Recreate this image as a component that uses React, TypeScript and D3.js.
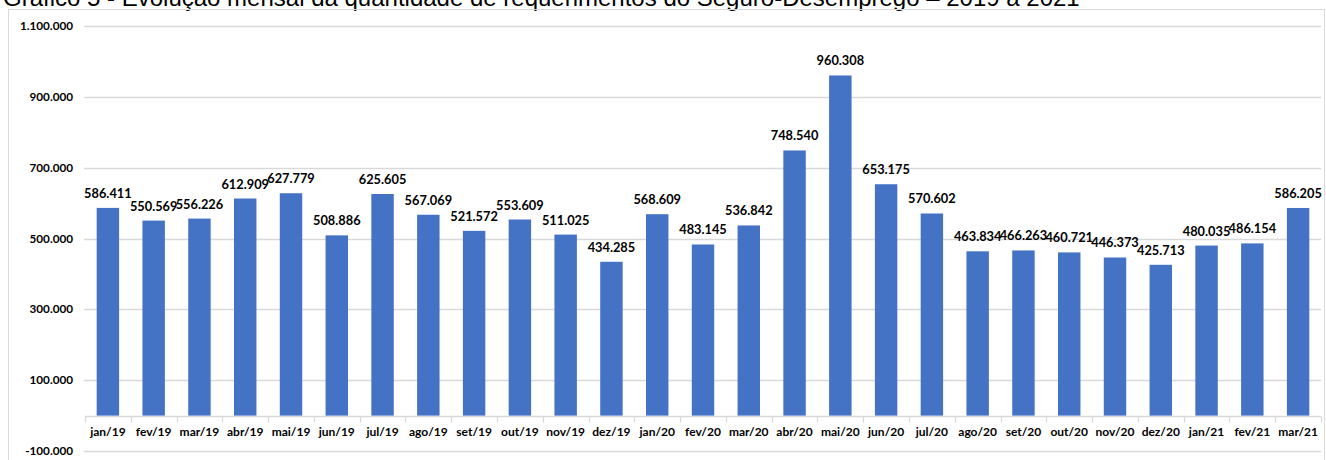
import React, { useRef, useEffect } from 'react';
import * as d3 from 'd3';

const months = [
  'jan/19', 'fev/19', 'mar/19', 'abr/19', 'mai/19', 'jun/19', 'jul/19', 'ago/19', 'set/19',
  'out/19', 'nov/19', 'dez/19', 'jan/20', 'fev/20', 'mar/20', 'abr/20', 'mai/20', 'jun/20',
  'jul/20', 'ago/20', 'set/20', 'out/20', 'nov/20', 'dez/20', 'jan/21', 'fev/21', 'mar/21',
];

const requerimentos = [
  586411, 550569, 556226, 612909, 627779, 508886, 625605, 567069, 521572,
  553609, 511025, 434285, 568609, 483145, 536842, 748540, 960308, 653175,
  570602, 463834, 466263, 460721, 446373, 425713, 480035, 486154, 586205,
];

const yTicks = [-100000, 100000, 300000, 500000, 700000, 900000, 1100000];

const title = 'Gráfico 5 - Evolução mensal da quantidade de requerimentos do Seguro-Desemprego – 2019 a 2021';

const BarChart = () => {
  const ref = useRef<SVGSVGElement>(null);

  useEffect(() => {
    const svg = d3.select(ref.current);
    svg.selectAll('*').remove();

    const font = 'Lato, Carlito, sans-serif';
    const grid = '#d9d9d9';

    const fmt = d3.formatLocale({
      decimal: ',', thousands: '.', grouping: [3], currency: ['R$', ''], minus: '-',
    }).format(',d');

    const data = months.map((m, i) => ({ month: m, value: requerimentos[i] }));

    const x = d3.scaleBand()
      .domain(months)
      .range([85, 1321])
      .padding(0);

    const y = d3.scaleLinear()
      .domain([-100000, 1100000])
      .range([451, 26]);

    // title, cut off by the top edge like in the source image
    svg.append('text')
      .attr('x', 3)
      .attr('y', 6)
      .attr('font-family', '"Liberation Sans", Arial, sans-serif')
      .attr('font-size', 24)
      .attr('fill', '#000')
      .text(title);

    // chart area border
    svg.append('rect')
      .attr('x', 8.5)
      .attr('y', 9.5)
      .attr('width', 1316)
      .attr('height', 460)
      .attr('fill', 'none')
      .attr('stroke', grid);

    // gridlines
    svg.append('g')
      .selectAll('line')
      .data(yTicks)
      .enter()
      .append('line')
      .attr('x1', 84)
      .attr('x2', 1321)
      .attr('y1', d => Math.round(y(d)) + 0.5)
      .attr('y2', d => Math.round(y(d)) + 0.5)
      .attr('stroke', grid)
      .attr('stroke-width', 1.3);

    svg.append('g')
      .selectAll('text')
      .data(yTicks)
      .enter()
      .append('text')
      .attr('x', 73)
      .attr('y', d => y(d) + 4)
      .attr('text-anchor', 'end')
      .attr('font-family', font)
      .attr('font-weight', 'bold')
      .attr('font-size', 11.7)
      .attr('fill', '#000')
      .text(d => fmt(d));

    // category axis at zero
    const y0 = Math.round(y(0)) + 0.5;
    svg.append('line')
      .attr('x1', 85)
      .attr('x2', 1321)
      .attr('y1', y0)
      .attr('y2', y0)
      .attr('stroke', grid)
      .attr('stroke-width', 1.3);

    svg.append('g')
      .selectAll('line')
      .data([...months.map(m => x(m)), 1321])
      .enter()
      .append('line')
      .attr('x1', d => Math.round(d) + 0.5)
      .attr('x2', d => Math.round(d) + 0.5)
      .attr('y1', y0)
      .attr('y2', y0 + 6)
      .attr('stroke', grid)
      .attr('stroke-width', 1.3);

    svg.append('g')
      .selectAll('text')
      .data(months)
      .enter()
      .append('text')
      .attr('x', d => x(d) + x.bandwidth() / 2)
      .attr('y', 436)
      .attr('text-anchor', 'middle')
      .attr('font-family', font)
      .attr('font-weight', 'bold')
      .attr('font-size', 12)
      .attr('fill', '#000')
      .text(d => d);

    // bars
    const bw = x.bandwidth() * 0.49;
    svg.append('g')
      .selectAll('rect')
      .data(data)
      .enter()
      .append('rect')
      .attr('x', d => x(d.month) + (x.bandwidth() - bw) / 2)
      .attr('y', d => y(d.value))
      .attr('width', bw)
      .attr('height', d => y(0) - y(d.value))
      .attr('fill', '#4472c4');

    // value labels
    svg.append('g')
      .selectAll('text')
      .data(data)
      .enter()
      .append('text')
      .attr('x', d => x(d.month) + x.bandwidth() / 2)
      .attr('y', d => y(d.value) - 10)
      .attr('text-anchor', 'middle')
      .attr('font-family', font)
      .attr('font-weight', 'bold')
      .attr('font-size', 12.8)
      .attr('fill', '#000')
      .text(d => fmt(d.value));
  }, []);

  return (
    <svg
      ref={ref}
      width={1326}
      height={460}
      style={{ position: 'absolute', left: 0, top: 0, background: '#fff' }}
    />
  );
};

export default function App() {
  return <BarChart />;
}
